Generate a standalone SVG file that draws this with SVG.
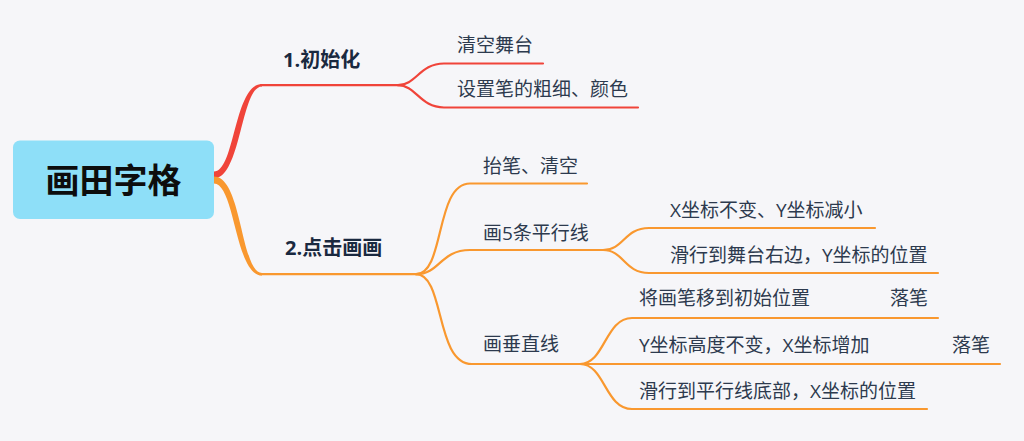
<svg xmlns="http://www.w3.org/2000/svg" width="1024" height="441" viewBox="0 0 1024 441">
  <style>
    .t { font-family: "Open Sans", "Noto Sans CJK SC", sans-serif; font-size: 19px; fill: #2d3a4e; }
    .b { font-family: "Open Sans", "Noto Sans CJK SC", sans-serif; font-size: 20px; font-weight: bold; fill: #1a2940; }
    .root { font-family: "Noto Sans CJK SC", sans-serif; font-size: 34px; font-weight: bold; fill: #0d0d0d; }
    .red { fill: none; stroke: #f0443a; stroke-width: 2.2; stroke-linecap: round; }
    .org { fill: none; stroke: #f9982f; stroke-width: 2.2; stroke-linecap: round; }
  </style>
  <rect width="1024" height="441" fill="#f6f6f9"/>
  <g id="connectors">
    <path d="M214,171.5 C235,171.5 234,84 262,84 L262,86.5 C241,86.5 241,178.5 214,178.5 Z" fill="#f0443a"/>
    <path d="M214,176.5 C242,176.5 241,273 262,273 L262,275.5 C235,275.5 235,183.5 214,183.5 Z" fill="#f9982f"/>
    <path class="red" d="M261,85.2 H398"/>
    <path class="red" d="M398,85.2 C416,85.2 420,63.5 444,63.5 H543"/>
    <path class="red" d="M398,85.2 C416,85.2 420,107.5 444,107.5 H638"/>
    <path class="org" d="M261,274.2 H416"/>
    <path class="org" d="M416,274.2 C445,274.2 435,183.5 470,183.5 H587"/>
    <path class="org" d="M416,274.2 C440,274.2 440,250 470,250 H603"/>
    <path class="org" d="M603,250 C624,250 624,228 649,228 H875"/>
    <path class="org" d="M603,250 C624,250 624,273 649,273 H938"/>
    <path class="org" d="M416,274.2 C445,274.2 435,364 472,364 H580"/>
    <path class="org" d="M580,364 C605,364 605,318 632,318 H938"/>
    <path class="org" d="M580,364 H1000"/>
    <path class="org" d="M580,364 C605,364 605,409 632,409 H927"/>
  </g>
  <g id="root">
    <rect x="13" y="140.5" width="201" height="78.5" rx="7" fill="#8edff8"/>
    <text class="root" x="113.5" y="193" text-anchor="middle">画田字格</text>
  </g>
  <g id="b1"><text class="b" x="283" y="67">1.初始化</text></g>
  <g id="b1c1"><text class="t" x="457" y="52">清空舞台</text></g>
  <g id="b1c2"><text class="t" x="457" y="96">设置笔的粗细、颜色</text></g>
  <g id="b2"><text class="b" x="285" y="255">2.点击画画</text></g>
  <g id="b2c1"><text class="t" x="483" y="173">抬笔、清空</text></g>
  <g id="b2c2"><text class="t" x="483" y="240">画5条平行线</text></g>
  <g id="b2c2a"><text class="t" x="670" y="217">X坐标不变、Y坐标减小</text></g>
  <g id="b2c2b"><text class="t" x="670" y="262">滑行到舞台右边，Y坐标的位置</text></g>
  <g id="b2c3"><text class="t" x="483" y="351">画垂直线</text></g>
  <g id="b2c3a"><text class="t" x="639" y="305">将画笔移到初始位置</text><text class="t" x="890" y="305">落笔</text></g>
  <g id="b2c3b"><text class="t" x="639" y="352">Y坐标高度不变，X坐标增加</text><text class="t" x="952" y="352">落笔</text></g>
  <g id="b2c3c"><text class="t" x="639" y="398">滑行到平行线底部，X坐标的位置</text></g>
</svg>
